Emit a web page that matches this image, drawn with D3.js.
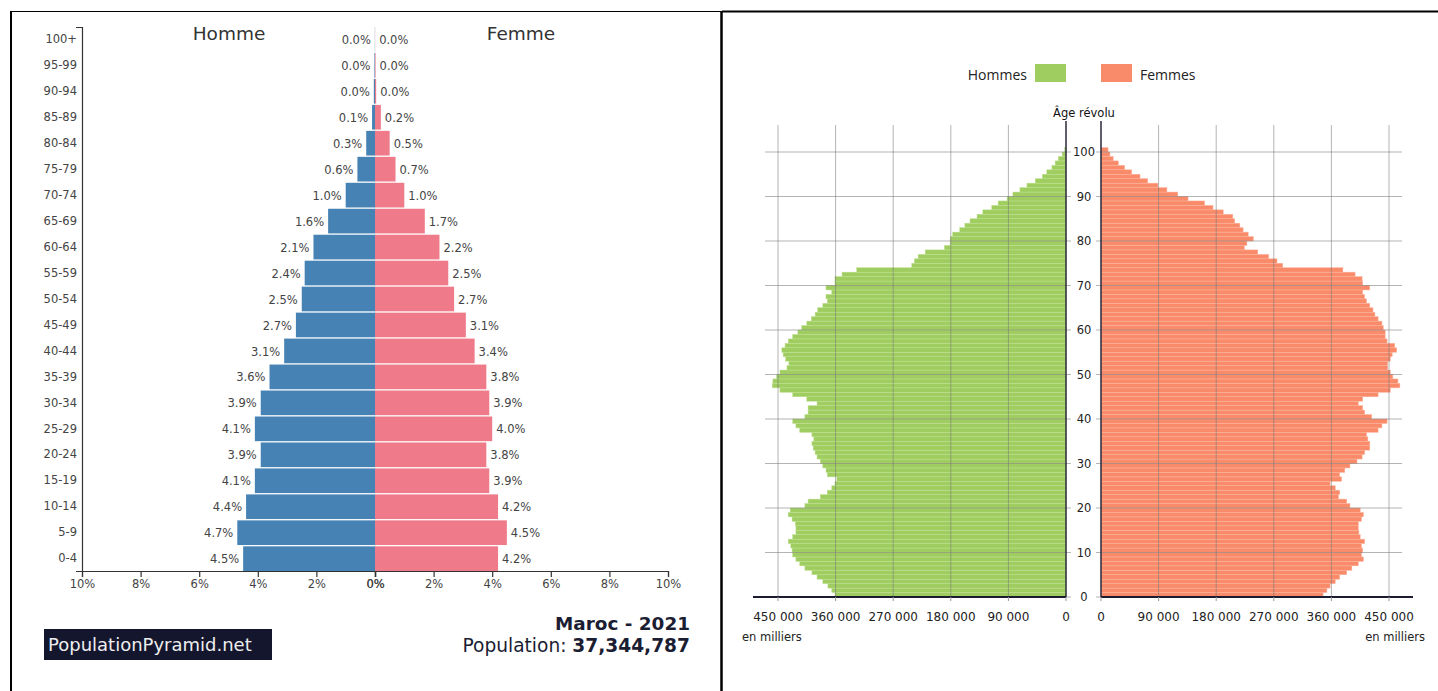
<!DOCTYPE html>
<html>
<head>
<meta charset="utf-8">
<script src="https://cdn.jsdelivr.net/npm/d3@7"></script>
<style>
  body { margin: 0; background: #fff; }
</style>
</head>
<body>
<div class="chart"></div>
<script>
// --- left pyramid (PopulationPyramid.net), percent by 5-year group ---
const groupes = ["0-4", "5-9", "10-14", "15-19", "20-24", "25-29", "30-34", "35-39", "40-44", "45-49",
                 "50-54", "55-59", "60-64", "65-69", "70-74", "75-79", "80-84", "85-89", "90-94", "95-99", "100+"];
const hommePct = [4.5, 4.7, 4.4, 4.1, 3.9, 4.1, 3.9, 3.6, 3.1, 2.7, 2.5, 2.4, 2.1, 1.6, 1.0, 0.6, 0.3, 0.1, 0.04, 0.02, 0.005];
const femmePct = [4.2, 4.5, 4.2, 3.9, 3.8, 4.0, 3.9, 3.8, 3.4, 3.1, 2.7, 2.5, 2.2, 1.7, 1.0, 0.7, 0.5, 0.2, 0.04, 0.02, 0.005];
const pctTicks = [0, 2, 4, 6, 8, 10];

// --- right pyramid, single years of age 0..100 ---
const hommes = [361000, 366000, 372000, 380000, 389000, 397000, 408000, 416000, 422000, 427000,
                428000, 430000, 434000, 427000, 422000, 422000, 423000, 428000, 434000, 431000,
                408000, 403000, 384000, 373000, 366000, 361000, 358000, 373000, 375000, 380000,
                384000, 389000, 392000, 395000, 397000, 394000, 397000, 416000, 422000, 427000,
                408000, 403000, 403000, 389000, 405000, 427000, 447000, 459000, 458000, 452000,
                447000, 436000, 433000, 438000, 442000, 444000, 439000, 434000, 427000, 419000,
                413000, 405000, 398000, 392000, 388000, 380000, 373000, 375000, 366000, 375000,
                361000, 361000, 350000, 327000, 241000, 237000, 231000, 220000, 190000, 181000,
                181000, 177000, 166000, 158000, 150000, 139000, 130000, 116000, 106000, 92000,
                83000, 72000, 61000, 48000, 37000, 30000, 22000, 17000, 12000, 6000, 2000];
const femmes = [347000, 353000, 358000, 366000, 373000, 384000, 392000, 402000, 410000, 407000,
                409000, 407000, 412000, 405000, 403000, 402000, 402000, 407000, 410000, 405000,
                389000, 384000, 371000, 373000, 366000, 358000, 376000, 373000, 381000, 389000,
                400000, 408000, 412000, 420000, 420000, 417000, 415000, 433000, 439000, 447000,
                423000, 412000, 409000, 402000, 409000, 433000, 452000, 467000, 464000, 456000,
                452000, 448000, 448000, 452000, 455000, 462000, 459000, 447000, 444000, 444000,
                441000, 439000, 433000, 428000, 425000, 420000, 415000, 412000, 409000, 420000,
                409000, 408000, 397000, 378000, 284000, 275000, 262000, 245000, 224000, 228000,
                238000, 230000, 222000, 217000, 209000, 206000, 191000, 175000, 162000, 136000,
                120000, 103000, 89000, 73000, 61000, 48000, 37000, 27000, 19000, 14000, 11000];
const ages = hommes.map((d, i) => i);
const ageTicks = [0, 10, 20, 30, 40, 50, 60, 70, 80, 90, 100];
const effTicks = [0, 90000, 180000, 270000, 360000, 450000];

const svg = d3.select(".chart")
              .append("svg")
              .attr("width", 1438)
              .attr("height", 691);

// table borders
svg.append("line").attr("x1", 10).attr("x2", 722).attr("y1", 11.5).attr("y2", 11.5)
   .attr("stroke", "#000").attr("stroke-width", 1.2);
svg.append("line").attr("x1", 722).attr("x2", 1438).attr("y1", 11.5).attr("y2", 11.5)
   .attr("stroke", "#000").attr("stroke-width", 2);
svg.append("line").attr("x1", 11).attr("x2", 11).attr("y1", 11).attr("y2", 691)
   .attr("stroke", "#000").attr("stroke-width", 2);
svg.append("line").attr("x1", 721.5).attr("x2", 721.5).attr("y1", 11).attr("y2", 691)
   .attr("stroke", "#000").attr("stroke-width", 2.5);

// ================= left chart =================
const left = svg.append("g").style("font-family", "'DejaVu Sans', sans-serif");

const yGroupe = d3.scaleBand()
                  .domain(groupes.slice().reverse())
                  .range([27, 571])
                  .paddingInner(0.05);
const xHomme = d3.scaleLinear().domain([0, 10]).range([375, 82]);
const xFemme = d3.scaleLinear().domain([0, 10]).range([375, 668]);

const rows = groupes.map((g, i) => ({ groupe: g, h: hommePct[i], f: femmePct[i] }));

left.selectAll(".bar-h")
    .data(rows)
    .join("rect")
    .attr("class", "bar-h")
    .attr("x", d => xHomme(d.h))
    .attr("y", d => yGroupe(d.groupe))
    .attr("width", d => xHomme(0) - xHomme(d.h))
    .attr("height", yGroupe.bandwidth())
    .attr("fill", "#4682b4");

left.selectAll(".bar-f")
    .data(rows)
    .join("rect")
    .attr("class", "bar-f")
    .attr("x", xFemme(0))
    .attr("y", d => yGroupe(d.groupe))
    .attr("width", d => xFemme(d.f) - xFemme(0))
    .attr("height", yGroupe.bandwidth())
    .attr("fill", "#ef7a89");

left.selectAll(".lab-h")
    .data(rows)
    .join("text")
    .attr("class", "lab-h")
    .text(d => d.h.toFixed(1) + "%")
    .attr("x", d => xHomme(d.h) - 4)
    .attr("y", d => yGroupe(d.groupe) + yGroupe.bandwidth() / 2)
    .attr("dy", "0.4em")
    .attr("text-anchor", "end")
    .style("font-size", "11.5px")
    .attr("fill", "#444");

left.selectAll(".lab-f")
    .data(rows)
    .join("text")
    .attr("class", "lab-f")
    .text(d => d.f.toFixed(1) + "%")
    .attr("x", d => xFemme(d.f) + 4)
    .attr("y", d => yGroupe(d.groupe) + yGroupe.bandwidth() / 2)
    .attr("dy", "0.4em")
    .style("font-size", "11.5px")
    .attr("fill", "#444");

const styleAxis = g => {
    g.select(".domain").attr("stroke", "#333").attr("stroke-width", 1.2);
    g.selectAll(".tick line").attr("stroke", "#333").attr("stroke-width", 1.2);
    g.selectAll("text").attr("fill", "#444").style("font-size", "11.5px")
     .style("font-family", "'DejaVu Sans', sans-serif");
};

left.append("g")
    .attr("transform", "translate(82,0)")
    .call(d3.axisLeft(yGroupe).tickSizeInner(0).tickSizeOuter(6).tickPadding(5))
    .call(styleAxis);

left.append("g")
    .attr("transform", "translate(0,571)")
    .call(d3.axisBottom(xHomme).tickValues(pctTicks).tickFormat(d => d + "%"))
    .call(styleAxis);

left.append("g")
    .attr("transform", "translate(0,571)")
    .call(d3.axisBottom(xFemme).tickValues(pctTicks).tickFormat(d => d + "%"))
    .call(styleAxis);

left.append("text").text("Homme")
    .attr("x", 229).attr("y", 40)
    .attr("text-anchor", "middle")
    .style("font-size", "18.5px")
    .attr("fill", "#333");

left.append("text").text("Femme")
    .attr("x", 521).attr("y", 40)
    .attr("text-anchor", "middle")
    .style("font-size", "18.5px")
    .attr("fill", "#333");

left.append("text").text("Maroc - 2021")
    .attr("x", 690).attr("y", 630)
    .attr("text-anchor", "end")
    .style("font-size", "18.4px")
    .style("font-weight", "bold")
    .attr("fill", "#1b1d33");

const pop = left.append("text")
    .attr("x", 690).attr("y", 652)
    .attr("text-anchor", "end")
    .style("font-size", "18.6px")
    .attr("fill", "#1b1d33");
pop.append("tspan").text("Population: ");
pop.append("tspan").text("37,344,787").style("font-weight", "bold");

left.append("rect")
    .attr("x", 44).attr("y", 629)
    .attr("width", 228).attr("height", 31)
    .attr("fill", "#14162e");

left.append("text").text("PopulationPyramid.net")
    .attr("x", 48).attr("y", 651)
    .style("font-size", "18px")
    .attr("fill", "#eeeeee");

// ================= right chart =================
const right = svg.append("g").style("font-family", "'DejaVu Sans', sans-serif");

const xH = d3.scaleLinear().domain([0, 450000]).range([1066, 778]);
const xF = d3.scaleLinear().domain([0, 450000]).range([1101, 1389]);
const yAge = d3.scaleLinear().domain([0, 100]).range([597, 152]);

const fmt = d3.formatLocale({ decimal: ",", thousands: " ", grouping: [3], currency: ["", ""] }).format(",");

const annees = ages.map(a => ({ age: a, h: hommes[a], f: femmes[a] }));

right.selectAll(".an-h")
     .data(annees)
     .join("rect")
     .attr("class", "an-h")
     .attr("x", d => xH(d.h))
     .attr("y", d => yAge(d.age + 1))
     .attr("width", d => xH(0) - xH(d.h))
     .attr("height", d => yAge(d.age) - yAge(d.age + 1))
     .attr("fill", "#9fcd60")
     .attr("stroke", "#bfe092")
     .attr("stroke-width", 0.5);

right.selectAll(".an-f")
     .data(annees)
     .join("rect")
     .attr("class", "an-f")
     .attr("x", xF(0))
     .attr("y", d => yAge(d.age + 1))
     .attr("width", d => xF(d.f) - xF(0))
     .attr("height", d => yAge(d.age) - yAge(d.age + 1))
     .attr("fill", "#f98b6b")
     .attr("stroke", "#fcb49d")
     .attr("stroke-width", 0.5);

// grid on top of bars
const grid = right.append("g")
                  .attr("stroke", "#777")
                  .attr("stroke-opacity", 0.55)
                  .attr("stroke-width", 1);

grid.selectAll(".vh")
    .data(effTicks.filter(d => d > 0))
    .join("line")
    .attr("x1", d => xH(d)).attr("x2", d => xH(d))
    .attr("y1", 125).attr("y2", yAge(0));

grid.selectAll(".vf")
    .data(effTicks.filter(d => d > 0))
    .join("line")
    .attr("x1", d => xF(d)).attr("x2", d => xF(d))
    .attr("y1", 125).attr("y2", yAge(0));

grid.selectAll(".hh")
    .data(ageTicks.filter(d => d > 0))
    .join("line")
    .attr("x1", 765).attr("x2", xH(0))
    .attr("y1", d => yAge(d)).attr("y2", d => yAge(d));

grid.selectAll(".hf")
    .data(ageTicks.filter(d => d > 0))
    .join("line")
    .attr("x1", xF(0)).attr("x2", 1402)
    .attr("y1", d => yAge(d)).attr("y2", d => yAge(d));

// small dashes beside the age labels
grid.selectAll(".dl")
    .data(ageTicks)
    .join("line")
    .attr("x1", xH(0)).attr("x2", xH(0) + 5)
    .attr("y1", d => yAge(d)).attr("y2", d => yAge(d));

grid.selectAll(".dr")
    .data(ageTicks)
    .join("line")
    .attr("x1", xF(0) - 5).attr("x2", xF(0))
    .attr("y1", d => yAge(d)).attr("y2", d => yAge(d));

// axes
right.append("line")
     .attr("x1", xH(0)).attr("x2", xH(0))
     .attr("y1", 121).attr("y2", yAge(0))
     .attr("stroke", "#2a2a3a").attr("stroke-width", 1.5);
right.append("line")
     .attr("x1", xF(0)).attr("x2", xF(0))
     .attr("y1", 121).attr("y2", yAge(0))
     .attr("stroke", "#2a2a3a").attr("stroke-width", 1.5);
right.append("line")
     .attr("x1", 753).attr("x2", xH(0))
     .attr("y1", yAge(0)).attr("y2", yAge(0))
     .attr("stroke", "#1c1c30").attr("stroke-width", 2);
right.append("line")
     .attr("x1", xF(0)).attr("x2", 1413)
     .attr("y1", yAge(0)).attr("y2", yAge(0))
     .attr("stroke", "#1c1c30").attr("stroke-width", 2);

right.selectAll(".th")
     .data(effTicks)
     .join("line")
     .attr("x1", d => xH(d)).attr("x2", d => xH(d))
     .attr("y1", yAge(0)).attr("y2", yAge(0) + 4)
     .attr("stroke", "#999");
right.selectAll(".tf")
     .data(effTicks)
     .join("line")
     .attr("x1", d => xF(d)).attr("x2", d => xF(d))
     .attr("y1", yAge(0)).attr("y2", yAge(0) + 4)
     .attr("stroke", "#999");

right.selectAll(".lh")
     .data(effTicks)
     .join("text")
     .text(d => fmt(d))
     .attr("x", d => xH(d))
     .attr("y", 621)
     .attr("text-anchor", "middle")
     .style("font-size", "12px")
     .attr("fill", "#222");
right.selectAll(".lf")
     .data(effTicks)
     .join("text")
     .text(d => fmt(d))
     .attr("x", d => xF(d))
     .attr("y", 621)
     .attr("text-anchor", "middle")
     .style("font-size", "12px")
     .attr("fill", "#222");

right.selectAll(".la")
     .data(ageTicks)
     .join("text")
     .text(d => d)
     .attr("x", 1084)
     .attr("y", d => yAge(d))
     .attr("dy", "0.36em")
     .attr("text-anchor", "middle")
     .style("font-size", "11.5px")
     .attr("fill", "#222");

right.append("text").text("en milliers")
     .attr("x", 742).attr("y", 641)
     .style("font-size", "11.5px")
     .attr("fill", "#222");
right.append("text").text("en milliers")
     .attr("x", 1425).attr("y", 641)
     .attr("text-anchor", "end")
     .style("font-size", "11.5px")
     .attr("fill", "#222");

right.append("text").text("Âge révolu")
     .attr("x", 1084).attr("y", 117)
     .attr("text-anchor", "middle")
     .style("font-size", "11.5px")
     .attr("fill", "#111");

// legend
right.append("text").text("Hommes")
     .attr("x", 1027).attr("y", 80)
     .attr("text-anchor", "end")
     .style("font-family", "'Open Sans', sans-serif")
     .style("font-size", "14px")
     .attr("fill", "#222");
right.append("rect")
     .attr("x", 1035).attr("y", 64)
     .attr("width", 31).attr("height", 18)
     .attr("fill", "#9fcd60");
right.append("rect")
     .attr("x", 1101).attr("y", 64)
     .attr("width", 31).attr("height", 18)
     .attr("fill", "#f98b6b");
right.append("text").text("Femmes")
     .attr("x", 1140).attr("y", 80)
     .style("font-family", "'Open Sans', sans-serif")
     .style("font-size", "14px")
     .attr("fill", "#222");
</script>
</body>
</html>
